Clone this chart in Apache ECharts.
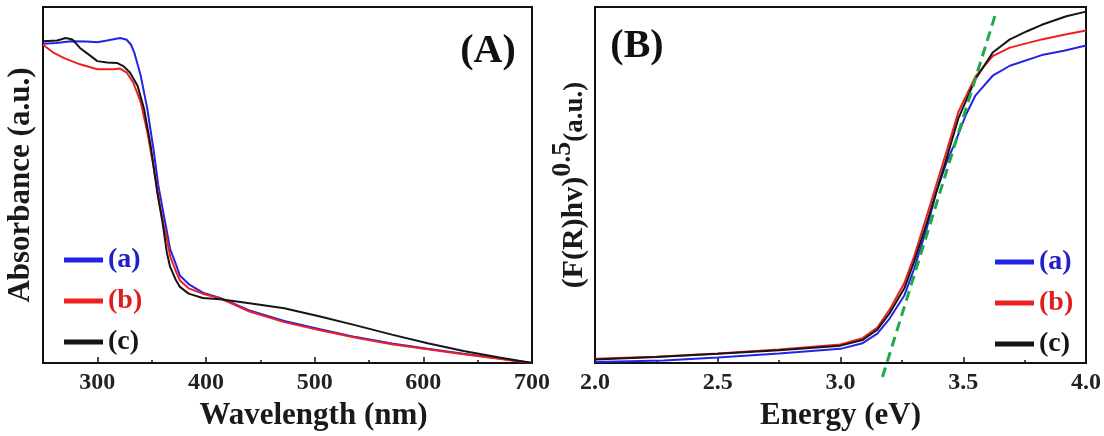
<!DOCTYPE html>
<html>
<head>
<meta charset="utf-8">
<script src="https://cdn.jsdelivr.net/npm/echarts@6/dist/echarts.min.js"></script>
<style>
  html, body { margin: 0; padding: 0; background: #fff; }
  #chart { width: 1104px; height: 436px; }
</style>
</head>
<body>
<div id="chart"></div>
<script>
// (A) absorbance vs wavelength, values in a.u. (0 = bottom of frame, 1 = top)
const wlA = [250, 262, 276, 290, 300, 309, 321, 327, 331, 334, 340, 346, 352, 356, 361, 364, 367, 372, 376, 384, 397, 413, 440, 472, 505, 538, 571, 604, 637, 670, 700]
const absA = [0.897, 0.899, 0.904, 0.903, 0.901, 0.906, 0.913, 0.908, 0.894, 0.872, 0.806, 0.714, 0.594, 0.501, 0.418, 0.37, 0.32, 0.28, 0.246, 0.222, 0.198, 0.183, 0.148, 0.118, 0.095, 0.073, 0.055, 0.040, 0.026, 0.013, 0]
const wlB = [250, 260, 269, 284, 300, 315, 321, 327, 333, 340, 346, 352, 358, 361, 364, 367, 372, 376, 384, 397, 413, 440, 472, 505, 538, 571, 604, 637, 670, 700]
const absB = [0.894, 0.871, 0.857, 0.839, 0.825, 0.825, 0.827, 0.816, 0.788, 0.732, 0.649, 0.547, 0.436, 0.39, 0.35, 0.30, 0.26, 0.232, 0.21, 0.195, 0.182, 0.145, 0.115, 0.092, 0.071, 0.053, 0.039, 0.025, 0.012, 0]
const wlC = [250, 263, 271, 277, 284, 294, 300, 309, 318, 324, 330, 337, 343, 349, 355, 360, 364, 367, 372, 376, 384, 397, 413, 440, 472, 505, 538, 571, 604, 637, 670, 700]
const absC = [0.904, 0.906, 0.913, 0.909, 0.885, 0.862, 0.848, 0.844, 0.843, 0.834, 0.816, 0.779, 0.714, 0.612, 0.482, 0.395, 0.31, 0.27, 0.235, 0.214, 0.195, 0.183, 0.179, 0.168, 0.154, 0.131, 0.106, 0.080, 0.056, 0.034, 0.016, 0]

// (B) (F(R)hv)^0.5 vs energy
const eA = [2.0, 2.28, 2.5, 2.75, 3.0, 3.09, 3.15, 3.2, 3.26, 3.3, 3.35, 3.39, 3.43, 3.47, 3.51, 3.55, 3.62, 3.69, 3.82, 3.91, 4.0]
const kmA = [0.003, 0.007, 0.016, 0.027, 0.040, 0.056, 0.083, 0.125, 0.19, 0.265, 0.375, 0.48, 0.56, 0.625, 0.696, 0.752, 0.807, 0.835, 0.865, 0.877, 0.892]
const eB = [2.0, 2.25, 2.5, 2.75, 3.0, 3.09, 3.15, 3.2, 3.26, 3.3, 3.35, 3.39, 3.43, 3.48, 3.55, 3.62, 3.69, 3.82, 3.91, 4.0]
const kmB = [0.012, 0.018, 0.027, 0.038, 0.052, 0.07, 0.10, 0.15, 0.225, 0.30, 0.41, 0.5, 0.59, 0.705, 0.805, 0.862, 0.886, 0.909, 0.922, 0.934]
const eC = [2.0, 2.25, 2.5, 2.75, 3.0, 3.09, 3.15, 3.2, 3.26, 3.3, 3.35, 3.39, 3.43, 3.48, 3.55, 3.62, 3.69, 3.76, 3.82, 3.92, 4.0]
const kmC = [0.010, 0.017, 0.026, 0.036, 0.049, 0.065, 0.094, 0.14, 0.21, 0.285, 0.39, 0.48, 0.57, 0.687, 0.798, 0.872, 0.909, 0.932, 0.950, 0.974, 0.987]

// band gap extrapolation line
const fitE = [3.171, 3.634]
const fitV = [-0.039, 0.986]

const names = ['(a)', '(b)', '(c)']
const lineColors = ['#2323e8', '#ee2020', '#151515']
const labelColors = ['#2020c8', '#e01c1c', '#151515']
const ticksA = [300, 400, 500, 600, 700]
const ticksB = [2.5, 3.0, 3.5]

const FONT = '"Liberation Serif", "Times New Roman", serif'
const zip = (xs, ys) => xs.map((x, i) => [x, ys[i]])

const chart = echarts.init(document.getElementById('chart'))

const nameStyle = { fontFamily: FONT, fontWeight: 'bold', fontSize: 31, color: '#1a1a1a' }
const labelStyle = { fontFamily: FONT, fontWeight: 'bold', fontSize: 24, color: '#222', margin: 8 }
const frame = { show: true, borderColor: '#111', borderWidth: 2, backgroundColor: 'transparent' }

function curve (name, data, color, xi, yi) {
  return {
    name: name,
    type: 'line',
    xAxisIndex: xi,
    yAxisIndex: yi,
    data: data,
    showSymbol: false,
    symbol: 'none',
    lineStyle: { color: color, width: 2 },
    itemStyle: { color: color },
    z: 3
  }
}

function legendAt (left, top) {
  return {
    left: left,
    top: top,
    orient: 'vertical',
    icon: 'rect',
    itemWidth: 39,
    itemHeight: 5,
    itemGap: 13,
    selectedMode: false,
    textStyle: { fontFamily: FONT, fontWeight: 'bold', fontSize: 28, lineHeight: 28 },
    data: names.map((n, i) => ({ name: n, textStyle: { color: labelColors[i] } }))
  }
}

const option = {
  animation: false,
  backgroundColor: '#fff',
  grid: [
    Object.assign({ left: 43, right: 572, top: 7, bottom: 69 }, frame),
    Object.assign({ left: 595, right: 17, top: 7, bottom: 68 }, frame)
  ],
  xAxis: [
    {
      gridIndex: 0, type: 'value', position: 'bottom', min: 250, max: 700, interval: 50,
      name: 'Wavelength (nm)', nameLocation: 'middle', nameGap: 36,
      nameTextStyle: Object.assign({ padding: [0, 0, 0, 52] }, nameStyle),
      axisLine: { show: true, onZero: false, lineStyle: { color: '#111', width: 2 } },
      axisTick: { show: true, inside: true, length: 3, lineStyle: { color: '#111', width: 1.5 } },
      axisLabel: Object.assign({ formatter: v => (v % 100 === 0 ? String(v) : '') }, labelStyle),
      splitLine: { show: false }
    },
    {
      gridIndex: 0, type: 'value', position: 'bottom', min: 250, max: 700,
      axisLine: { show: false },
      axisTick: { show: true, inside: true, length: 6, customValues: ticksA, lineStyle: { color: '#111', width: 1.5 } },
      axisLabel: { show: false },
      splitLine: { show: false }
    },
    {
      gridIndex: 1, type: 'value', position: 'bottom', min: 2, max: 4, interval: 0.25,
      name: 'Energy (eV)', nameLocation: 'middle', nameGap: 36,
      nameTextStyle: nameStyle,
      axisLine: { show: true, onZero: false, lineStyle: { color: '#111', width: 2 } },
      axisTick: { show: true, inside: true, length: 3, lineStyle: { color: '#111', width: 1.5 } },
      axisLabel: Object.assign({
        formatter: v => (Math.round(v * 4) % 2 === 0 ? v.toFixed(1) : '')
      }, labelStyle),
      splitLine: { show: false }
    },
    {
      gridIndex: 1, type: 'value', position: 'bottom', min: 2, max: 4,
      axisLine: { show: false },
      axisTick: { show: true, inside: true, length: 6, customValues: ticksB, lineStyle: { color: '#111', width: 1.5 } },
      axisLabel: { show: false },
      splitLine: { show: false }
    }
  ],
  yAxis: [
    {
      gridIndex: 0, type: 'value', min: 0, max: 1,
      name: 'Absorbance (a.u.)', nameLocation: 'middle', nameGap: 7,
      nameTextStyle: nameStyle,
      axisLine: { show: true, onZero: false, lineStyle: { color: '#111', width: 2 } },
      axisTick: { show: false },
      axisLabel: { show: false },
      splitLine: { show: false }
    },
    {
      gridIndex: 1, type: 'value', min: 0, max: 1,
      name: '{m|(F(R)hv)}{s|0.5}{u|(a.u.)}', nameLocation: 'middle', nameGap: 6,
      nameTextStyle: Object.assign({}, nameStyle, {
        rich: {
          m: { fontFamily: FONT, fontWeight: 'bold', fontSize: 30, color: '#1a1a1a', lineHeight: 40, verticalAlign: 'bottom' },
          s: { fontFamily: FONT, fontWeight: 'bold', fontSize: 28, color: '#1a1a1a', lineHeight: 40, verticalAlign: 'top' },
          u: { fontFamily: FONT, fontWeight: 'bold', fontSize: 27, color: '#1a1a1a', lineHeight: 40, verticalAlign: 'bottom' }
        }
      }),
      axisLine: { show: true, onZero: false, lineStyle: { color: '#111', width: 2 } },
      axisTick: { show: false },
      axisLabel: { show: false },
      splitLine: { show: false }
    }
  ],
  legend: [legendAt(59, 241), legendAt(990, 243)],
  graphic: [
    {
      type: 'text', x: 488, y: 52,
      style: { text: '(A)', font: 'bold 40px ' + FONT, fill: '#111', textAlign: 'center', textVerticalAlign: 'middle', align: 'center', verticalAlign: 'middle' }
    },
    {
      type: 'text', x: 637, y: 47,
      style: { text: '(B)', font: 'bold 40px ' + FONT, fill: '#111', textAlign: 'center', textVerticalAlign: 'middle', align: 'center', verticalAlign: 'middle' }
    }
  ],
  series: [
    curve(names[0], zip(wlA, absA), lineColors[0], 0, 0),
    curve(names[1], zip(wlB, absB), lineColors[1], 0, 0),
    curve(names[2], zip(wlC, absC), lineColors[2], 0, 0),
    curve(names[0], zip(eA, kmA), lineColors[0], 2, 1),
    curve(names[1], zip(eB, kmB), lineColors[1], 2, 1),
    curve(names[2], zip(eC, kmC), lineColors[2], 2, 1),
    {
      type: 'line',
      xAxisIndex: 2,
      yAxisIndex: 1,
      data: zip(fitE, fitV),
      showSymbol: false,
      symbol: 'none',
      clip: false,
      lineStyle: { color: '#1faa4a', width: 3, type: [10, 6] },
      z: 4
    }
  ]
}

chart.setOption(option)
</script>
</body>
</html>
